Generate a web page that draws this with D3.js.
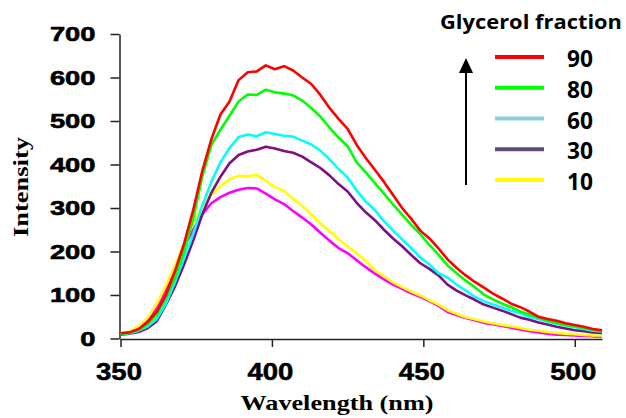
<!DOCTYPE html>
<html>
<head>
<meta charset="utf-8">
<script src="https://cdn.jsdelivr.net/npm/d3@7"></script>
<style>
  body { margin: 0; background: #fff; }
</style>
</head>
<body>
<div id="chart"></div>
<script>
// wavelength (nm), every 3 nm
const wavelength = [350,353,356,359,362,365,368,371,374,377,380,383,386,389,392,395,398,401,404,407,410,413,416,419,422,425,428,431,434,437,440,443,446,449,452,455,458,461,464,467,470,473,476,479,482,485,488,491,494,497,500,503,506,509];

// intensity per glycerol fraction
const glycerol90 = [12,14,22,38,62,100,155,218,295,385,458,515,545,594,612,614,628,619,626,616,600,585,560,530,505,482,445,415,388,360,330,300,275,248,230,207,182,162,145,130,117,103,92,80,72,62,50,45,41,35,31,27,22,19];
const glycerol80 = [11,13,20,33,55,92,140,200,275,372,445,480,512,545,561,560,572,566,563,559,547,530,510,485,462,442,405,382,357,333,308,285,261,240,215,193,168,150,133,118,101,90,80,72,62,55,48,41,36,31,28,24,20,17];
const glycerol60 = [10,12,18,28,45,80,130,185,240,305,360,405,438,463,469,465,474,470,466,464,455,446,432,412,390,370,340,315,295,270,248,228,208,186,170,150,140,124,110,96,86,78,71,64,58,50,44,39,34,30,26,22,18,16];
const glycerol30 = [9,11,15,24,40,78,120,170,225,285,335,372,403,422,430,434,441,437,431,427,418,405,392,375,355,338,312,290,272,250,230,212,192,173,160,145,124,110,99,89,78,71,64,56,48,43,37,32,27,23,19,17,14,13];
const glycerol10 = [12,16,28,48,80,122,168,218,265,305,330,350,366,374,373,376,362,348,340,321,305,285,265,247,228,212,196,178,157,143,129,118,108,99,88,78,65,57,49,44,39,35,31,28,24,20,18,15,13,11,10,8,7,7];
const glycerol0  = [11,14,24,42,70,112,160,212,250,285,311,325,335,342,346,345,333,320,309,293,278,262,243,225,208,196,180,164,149,136,124,114,104,96,86,75,61,54,47,42,36,33,29,25,21,17,14,11,9,8,7,6,5,5];

const legendLabels = ["90", "80", "60", "30", "10"];
const legendColors = ["#ff0000", "#00ff00", "#92cddc", "#604a7b", "#ffff00"];
const xTicks = [350, 400, 450, 500];
const yTicks = [0, 100, 200, 300, 400, 500, 600, 700];

// drawing order: bottom curve first, red on top
const series = [
  { name: "0",  values: glycerol0,  color: "#ff00ff" },
  { name: "10", values: glycerol10, color: "#ffff00" },
  { name: "30", values: glycerol30, color: "#800f80" },
  { name: "60", values: glycerol60, color: "#00ffff" },
  { name: "80", values: glycerol80, color: "#00ff00" },
  { name: "90", values: glycerol90, color: "#ff0000" }
];

const width = 626, height = 418;
const svg = d3.select("#chart").append("svg")
  .attr("width", width)
  .attr("height", height);

const x = d3.scaleLinear().domain([350, 509]).range([120.5, 602]);
const y = d3.scaleLinear().domain([0, 700]).range([338.5, 34]);

const axisColor = "#222";
const tickFont = "'Liberation Sans', Arial, sans-serif";

// y axis
const yAxis = svg.append("g")
  .attr("transform", "translate(119.5,0)")
  .call(d3.axisLeft(y).tickValues(yTicks).tickSize(9).tickSizeOuter(0).tickPadding(15));
yAxis.select(".domain").attr("stroke", axisColor).attr("stroke-width", 1.5);
yAxis.selectAll(".tick line").attr("stroke", axisColor).attr("stroke-width", 1.5);
yAxis.selectAll(".tick text")
  .attr("font-family", tickFont)
  .attr("font-weight", "bold")
  .attr("font-size", 21)
  .attr("fill", "#000")
  .attr("stroke", "#000")
  .attr("stroke-width", 0.6)
  .attr("textLength", d => String(d).length * 15.2)
  .attr("lengthAdjust", "spacingAndGlyphs");

// x axis
const xAxis = svg.append("g")
  .attr("transform", "translate(0,339)")
  .call(d3.axisBottom(x).tickValues(xTicks).tickSize(8).tickSizeOuter(0).tickFormat(d3.format("d")));
xAxis.select(".domain").attr("stroke", axisColor).attr("stroke-width", 1.5);
xAxis.selectAll(".tick line").attr("stroke", axisColor).attr("stroke-width", 1.5);
xAxis.selectAll(".tick text")
  .attr("y", 41)
  .attr("dy", null)
  .attr("x", -2)
  .attr("font-family", tickFont)
  .attr("font-weight", "bold")
  .attr("font-size", 24)
  .attr("fill", "#000")
  .attr("stroke", "#000")
  .attr("stroke-width", 0.5)
  .attr("textLength", 46)
  .attr("lengthAdjust", "spacingAndGlyphs");

// axis titles
svg.append("text")
  .attr("transform", "translate(28,187) rotate(-90)")
  .attr("text-anchor", "middle")
  .attr("font-family", "'Liberation Serif', 'Times New Roman', serif")
  .attr("font-weight", "bold")
  .attr("font-size", 21)
  .attr("textLength", 100)
  .attr("lengthAdjust", "spacingAndGlyphs")
  .text("Intensity");

svg.append("text")
  .attr("x", 337)
  .attr("y", 410)
  .attr("text-anchor", "middle")
  .attr("font-family", "'Liberation Serif', 'Times New Roman', serif")
  .attr("font-weight", "bold")
  .attr("font-size", 22)
  .attr("textLength", 193)
  .attr("lengthAdjust", "spacingAndGlyphs")
  .text("Wavelength (nm)");

// spectra
const line = d3.line()
  .x((d, i) => x(wavelength[i]))
  .y(d => y(d));

svg.append("g")
  .selectAll("path")
  .data(series)
  .join("path")
  .attr("fill", "none")
  .attr("stroke", d => d.color)
  .attr("stroke-width", 2.6)
  .attr("stroke-linejoin", "round")
  .attr("d", d => line(d.values));

// legend
const legendFont = "'Open Sans', 'Noto Sans', sans-serif";
svg.append("text")
  .attr("x", 440)
  .attr("y", 29)
  .attr("font-family", legendFont)
  .attr("font-weight", "bold")
  .attr("font-size", 20)
  .attr("textLength", 182)
  .attr("lengthAdjust", "spacingAndGlyphs")
  .text("Glycerol fraction");

const legendY = d3.scalePoint().domain(legendLabels).range([57, 180]);

const legend = svg.append("g")
  .selectAll("g")
  .data(legendLabels)
  .join("g")
  .attr("transform", d => `translate(0,${legendY(d)})`);

legend.append("line")
  .attr("x1", 495).attr("x2", 544)
  .attr("stroke", (d, i) => legendColors[i])
  .attr("stroke-width", 4);

legend.append("text")
  .attr("x", 567)
  .attr("y", 1)
  .attr("dominant-baseline", "central")
  .attr("font-family", legendFont)
  .attr("font-weight", "bold")
  .attr("font-size", 23)
  .attr("textLength", 26)
  .attr("lengthAdjust", "spacingAndGlyphs")
  .text(d => d);

// upward arrow
svg.append("line")
  .attr("x1", 466).attr("x2", 466)
  .attr("y1", 185).attr("y2", 70)
  .attr("stroke", "#000")
  .attr("stroke-width", 2);
svg.append("path")
  .attr("d", "M459,73 L466,58 L473,73 Z")
  .attr("fill", "#000");
</script>
</body>
</html>
